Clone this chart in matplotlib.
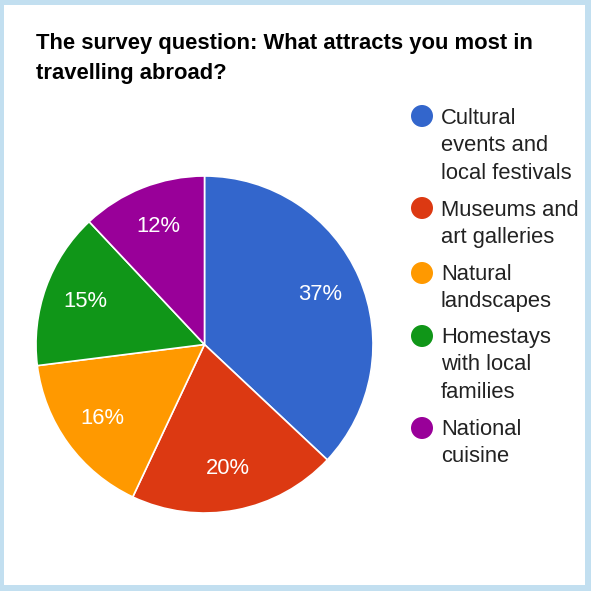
import matplotlib
matplotlib.use("Agg")
import matplotlib.pyplot as plt
from matplotlib.patches import Rectangle, Circle

title_lines = ["The survey question: What attracts you most in", "travelling abroad?"]
categories = ["Cultural\nevents and\nlocal festivals", "Museums and\nart galleries",
              "Natural\nlandscapes", "Homestays\nwith local\nfamilies", "National\ncuisine"]
values = [37, 20, 16, 15, 12]
colors = ["#3366cc", "#dc3912", "#ff9900", "#109618", "#990099"]

W = H = 591
DPI = 100
FS = 15.8
plt.rcParams['font.family'] = ['Liberation Sans', 'DejaVu Sans']
fig = plt.figure(figsize=(W / DPI, H / DPI), dpi=DPI)
fig.patch.set_facecolor("white")

def fx(x):
    return x / W

def fy(y):
    return 1 - y / H

# light blue frame
border = "#c2dff0"
for (x0, y0, w, h) in [(0, 0, 4, H), (0, 0, W, 5), (585, 0, 6, H), (0, 585, W, 6)]:
    fig.add_artist(Rectangle((fx(x0), fy(y0 + h)), w / W, h / H, transform=fig.transFigure,
                             facecolor=border, edgecolor="none"))

# title
for i, line in enumerate(title_lines):
    fig.text(fx(36), fy(49 + i * 30), line, fontsize=FS, fontweight="bold", color="black",
             ha="left", va="baseline")

# pie
cx, cy, r = 204.5, 344.5, 168.5
ax = fig.add_axes([fx(cx - r), fy(cy + r), 2 * r / W, 2 * r / H])
wedges, texts, autotexts = ax.pie(values, colors=colors, startangle=90, counterclock=False,
                                  autopct=lambda p: f"{p:.0f}%", pctdistance=0.75,
                                  wedgeprops=dict(edgecolor="white", linewidth=1.2),
                                  textprops=dict(color="white", fontsize=FS))
ax.set_xlim(-1, 1)
ax.set_ylim(-1, 1)
ax.set_aspect("equal")
ax.axis("off")

# legend
circle_y = [116, 208, 273, 336, 428]
first_base = [124, 216, 280, 343, 435]
line_h = 27.5
for cat, col, ccy, b in zip(categories, colors, circle_y, first_base):
    fig.add_artist(Circle((fx(422), fy(ccy)), 11 / W, transform=fig.transFigure,
                          facecolor=col, edgecolor="none"))
    for i, line in enumerate(cat.split("\n")):
        fig.text(fx(441), fy(b + i * line_h), line, fontsize=FS, color="#222222",
                 ha="left", va="baseline")

fig.savefig("out.png", dpi=DPI)
